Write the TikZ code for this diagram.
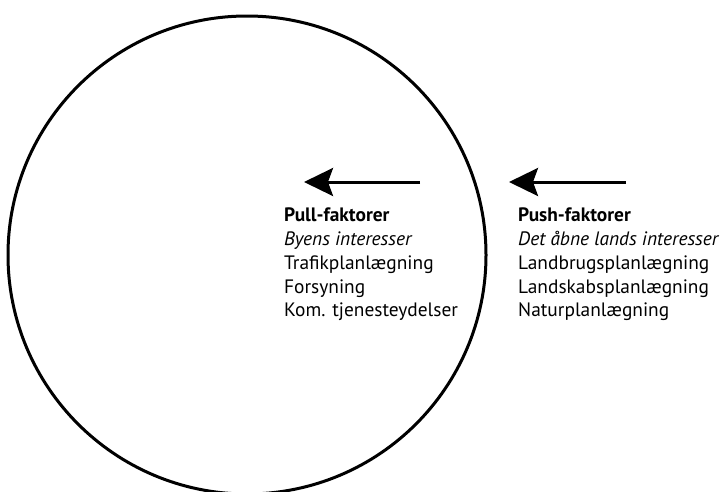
\documentclass[tikz,border=0pt]{standalone}
\usepackage{fontspec}
\setmainfont{PT Sans}
\usetikzlibrary{arrows.meta,positioning}
\tikzstyle{factor}=[align=left,anchor=north west,inner sep=0pt,font=\fontsize{19.4}{23.75}\selectfont]
\tikzstyle{pushpull}=[line width=3pt,-{Stealth[length=29pt,width=28pt,inset=5pt]}]

\begin{document}
\begin{tikzpicture}[x=1pt,y=-1pt]
\useasboundingbox (0,0) rectangle (720,491);
\draw[line width=3pt] (247,255) circle (239);
\draw (284,208) node [factor] (pull) {\textbf{Pull-faktorer}\\\textit{Byens interesser}\\Trafikplanlægning\\Forsyning\\Kom. tjenesteydelser};
\draw (518,208) node [factor] (push) {\textbf{Push-faktorer}\\\textit{Det åbne lands interesser}\\Landbrugsplanlægning\\Landskabsplanlægning\\Naturplanlægning};
\coordinate (pulltail) at (420,182);
\coordinate (pullhead) at (304,182);
\coordinate (pushtail) at (626,182);
\coordinate (pushhead) at (509,182);
\draw[pushpull] (pulltail) -- (pullhead);
\draw[pushpull] (pushtail) -- (pushhead);
\end{tikzpicture}
\end{document}
